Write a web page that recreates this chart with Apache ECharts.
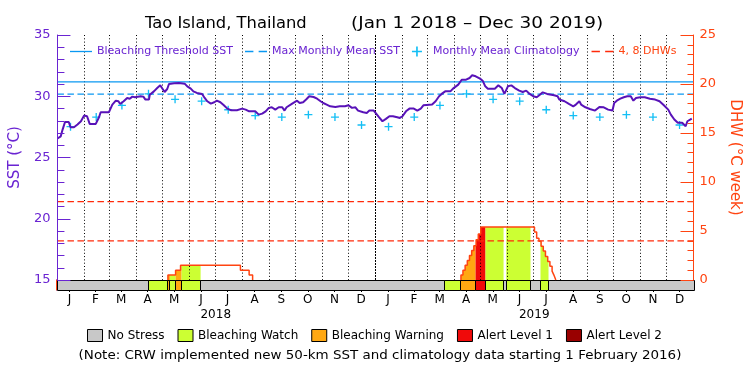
<!DOCTYPE html>
<html><head><meta charset="utf-8">
<script src="https://cdn.jsdelivr.net/npm/echarts@6/dist/echarts.min.js"></script>
<style>html,body{margin:0;padding:0;background:#fff}#c{width:750px;height:375px}</style>
</head><body><div id="c"></div>
<script>
// ---------------- data ----------------
const monthLetters = ['J','F','M','A','M','J','J','A','S','O','N','D'];
const monthLengths = [31,28,31,30,31,30,31,31,30,31,30,31, 31,28,31,30,31,30,31,31,30,31,30,31];
const yearLabels = ['2018','2019'];

// daily SST (day index from Jan 1 2018, deg C)
const sstDay = [0,3.8,6,8.7,13,15,19,23,27,30.5,34,37,44,47.7,49.6,59,63,67,70,72,76,80,83,86,89,95.5,98.6,101,105,106,110.7,114.5,118,120,123,126,128,134,139.5,146,149,153,156,160,166,169,172,176,180,183,187,191,195,199,206,212,216,220,227,231,235,239,242.6,246,250,254,258,260.6,263,269,275,278,282,286,289,294,298,302,305,309,313,319,324,330,334,338,342,345,351,355,358,363,366,369,373,377,381,385,390,393,396,398,400,404,409,413,417,420,430,434,438,441,445,451,454,460,464,469,473,476,480,482,485,488,491,494,502,506,510,513,517,521,525,530,534,538,542,546,550,553,557,562,570,574,576,582,587,592,595,599,601,606,611,617,619,622,627,632,637,639,642,646,650,654,658,661,664,669,674,680,686,691,696,701,704,708,712,717,721,723,728];
const sstVal = [26.55,26.73,27.3,27.9,27.9,27.47,27.47,27.69,27.96,28.42,28.37,27.74,27.74,28.29,28.69,28.69,29.32,29.64,29.59,29.37,29.59,29.86,29.8,29.97,29.92,30.0,29.97,29.73,29.73,30.13,30.4,30.67,30.89,30.67,30.35,30.59,31.0,31.06,31.08,31.03,30.81,30.62,30.4,30.27,30.19,29.86,29.59,29.4,29.51,29.64,29.51,29.26,28.99,28.86,28.86,28.99,28.91,28.77,28.77,28.5,28.58,28.77,29.05,29.1,28.91,29.1,29.1,28.83,29.1,29.37,29.64,29.45,29.51,29.78,30.0,29.94,29.8,29.59,29.45,29.32,29.18,29.13,29.18,29.18,29.26,29.05,29.1,28.83,28.69,28.64,28.83,28.83,28.56,28.29,27.96,28.15,28.37,28.37,28.29,28.23,28.37,28.29,28.77,28.99,28.99,28.83,28.99,29.26,29.32,29.59,30.0,30.19,30.4,30.4,30.62,30.95,31.35,31.35,31.49,31.71,31.63,31.49,31.44,31.27,30.81,30.62,30.62,30.89,30.67,30.19,30.81,30.89,30.67,30.46,30.35,30.46,30.19,30.0,29.92,30.08,30.32,30.19,30.08,30.0,29.73,29.59,29.37,29.18,29.32,29.59,29.32,29.1,28.96,28.83,28.91,29.13,29.1,28.91,28.83,29.45,29.64,29.8,29.92,30.0,30.0,29.64,29.86,29.92,29.92,29.8,29.73,29.59,29.26,28.91,28.5,28.1,27.83,27.83,27.55,27.96,28.18];

// monthly mean climatology Jan..Dec
const climatology = [27.52,28.3,29.25,30.2,29.75,29.6,28.9,28.42,28.3,28.5,28.3,27.65];
const maxMonthlyMean = 30.18;
const bleachingThreshold = 31.18;
const dhwGuides = [4, 8];

// degree heating weeks: value holds from day until next listed day
const dhwDay = [0,126.8,135.6,141.3,210.0,220.0,224.0,463.1,465.4,467.9,470.4,472.9,475.4,477.9,480.5,483.0,485.8,547.5,550.0,552.6,555.1,557.6,560.1,562.7,565.2,567.7,569.8,572.0];
const dhwVal = [0,0.5,1.0,1.5,1.0,0.5,0,0.5,1.0,1.5,2.0,2.5,3.0,3.5,4.1,4.7,5.4,4.9,4.25,3.95,3.45,2.95,2.4,1.9,1.4,0.9,0.5,0];

// bleaching alert status segments [startDay, endDay, level]
const statusStart = [0,105.0,126.1,129.1,135.6,142.5,164.3,444.3,462.7,479.9,491.3,512.0,515.1,542.9,554.4,563.6];
const statusEnd   = [105.0,126.1,129.1,135.6,142.5,164.3,444.3,462.7,479.9,491.3,512.0,515.1,542.9,554.4,563.6,730];
const statusLevel = [0,1,2,1,2,1,0,1,2,3,1,0,1,0,1,0];
const statusNames = ['No Stress','Bleaching Watch','Bleaching Warning','Alert Level 1','Alert Level 2'];

const titleLeft = 'Tao Island, Thailand';
const titleRight = '(Jan 1 2018 – Dec 30 2019)';
const noteText = '(Note: CRW implemented new 50-km SST and climatology data starting 1 February 2016)';

// ---------------- styling ----------------
const FONT = 'DejaVu Sans';
const PURPLE = '#6a24d2', SSTLINE = '#5812b8', RED = '#ff4411', BLUE = '#0a98f2', CYAN = '#14bff5', DASHRED = '#ff2a0a';
const statusColors = ['#c8c8c8','#ccff33','#ffa812','#f00a0a','#990000'];
const ICON_SOLID = 'path://M0,0H22V1.3H0Z';
const ICON_DASH = 'path://M0,0H8V1.3H0Z M13,0H21V1.3H13Z';

// ---------------- derived ----------------
const monthStarts = []; let acc = 0;
monthLengths.forEach(l => { monthStarts.push(acc); acc += l; });
const totalDays = acc;
const monthMids = monthStarts.map((s,i) => s + monthLengths[i]/2 - 0.5);
const boundaries = monthStarts.slice(1).map(s => [s, s === 365 ? 1 : 0]);
const yearMids = [182.5, 547.5];

const sstData = sstDay.map((d,i) => [d, sstVal[i]]);
const climData = monthMids.map((d,i) => [d, climatology[i % 12]]);

function dhwAt(d){ let v = 0; for (let i=0;i<dhwDay.length;i++){ if (dhwDay[i] <= d) v = dhwVal[i]; else break; } return v; }
const dhwLine = [];
for (let i=0;i<dhwDay.length;i++){
  const v = dhwVal[i];
  if (v > 0 && (i === 0 || dhwVal[i-1] === 0)) dhwLine.push([dhwDay[i], 0]);
  if (v > 0) dhwLine.push([dhwDay[i], v]);
  else if (i > 0 && dhwVal[i-1] > 0) { dhwLine.push([dhwDay[i], 0]); dhwLine.push([dhwDay[i], null]); }
}
const fillData = [];
statusLevel.forEach((lv,i) => { if (lv > 0) fillData.push([statusStart[i], statusEnd[i], lv]); });

function statusSeries(level){
  const data = [];
  statusLevel.forEach((lv,i) => { if (lv === level) data.push([statusStart[i], statusEnd[i]]); });
  return {
    type:'custom', name: statusNames[level], xAxisIndex:1, yAxisIndex:2, silent:true, z:4,
    itemStyle:{color: statusColors[level]}, data,
    renderItem(params, api){
      const a = api.coord([api.value(0), 1]), b = api.coord([api.value(1), 0]);
      const x0 = Math.round(a[0]) + 0.5, x1 = Math.round(b[0]) + 0.5;
      const y0 = Math.round(a[1]) + 0.5, y1 = Math.round(b[1]) + 0.5;
      return {type:'rect', shape:{x:x0, y:y0, width:x1-x0, height:y1-y0},
              style:{fill: statusColors[level], stroke:'#000', lineWidth:1}};
    }
  };
}

const labelMap = {};
monthMids.forEach((m,i) => { labelMap[m.toFixed(2)] = monthLetters[i % 12]; });
const yearMap = {};
yearMids.forEach((m,i) => { yearMap[m.toFixed(2)] = yearLabels[i]; });

const chart = echarts.init(document.getElementById('c'), null, {renderer:'canvas', width:750, height:375});
const option = {
  animation:false,
  backgroundColor:'#fff',
  graphic:[
    {type:'text', x:145, y:17, scaleX:1.09, silent:true,
     style:{text:titleLeft, font:'15px "DejaVu Sans"', fill:'#000', textVerticalAlign:'top', textAlign:'left'}},
    {type:'text', x:351, y:17, scaleX:1.23, silent:true,
     style:{text:titleRight, font:'15px "DejaVu Sans"', fill:'#000', textVerticalAlign:'top', textAlign:'left'}},
    {type:'text', x:380, y:350, scaleX:1.12, silent:true,
     style:{text:noteText, font:'12px "DejaVu Sans"', fill:'#000', textVerticalAlign:'top', textAlign:'center'}}
  ],
  legend:[
    {data:[{name:'Bleaching Threshold SST', icon:ICON_SOLID},{name:'Max Monthly Mean SST', icon:ICON_DASH},{name:'Monthly Mean Climatology'},{name:'4, 8 DHWs', icon:ICON_DASH, textStyle:{color:RED}}],
     left:70, top:46, itemWidth:22, itemHeight:10, itemGap:12, padding:0, selectedMode:false,
     textStyle:{color:PURPLE, fontSize:11, fontFamily:FONT}},
    {data:statusNames, left:87, top:329, itemWidth:15, itemHeight:12, itemGap:13, padding:0, selectedMode:false, icon:'rect',
     itemStyle:{borderColor:'#000', borderWidth:1}, textStyle:{color:'#000', fontSize:12, fontFamily:FONT}}
  ],
  grid:[
    {left:56.5, width:637, top:35, height:245},
    {left:56.5, width:637, top:280, height:10}
  ],
  xAxis:[
    {gridIndex:0, type:'value', min:0, max:totalDays, position:'top',
     axisLine:{show:true, lineStyle:{color:'#000', width:1}}, axisTick:{show:false}, axisLabel:{show:false}, splitLine:{show:false}},
    {gridIndex:1, type:'value', min:0, max:totalDays, position:'bottom',
     axisLine:{show:false}, splitLine:{show:false},
     axisTick:{show:true, customValues:monthMids, length:2, lineStyle:{color:'#000'}},
     axisLabel:{show:true, customValues:monthMids, margin:4, color:'#000', fontSize:12, fontFamily:FONT,
       formatter:(v)=> labelMap[Number(v).toFixed(2)] || ''}},
    {gridIndex:1, type:'value', min:0, max:totalDays, position:'bottom', offset:16,
     axisLine:{show:false}, axisTick:{show:false}, splitLine:{show:false},
     axisLabel:{show:true, customValues:yearMids, margin:3, color:'#000', fontSize:12, fontFamily:FONT,
       formatter:(v)=> yearMap[Number(v).toFixed(2)] || ''}}
  ],
  yAxis:[
    {gridIndex:0, type:'value', min:15, max:35, interval:5, position:'left', z:10,
     axisLine:{show:true, lineStyle:{color:PURPLE, width:1}},
     axisTick:{show:true, inside:true, length:13, lineStyle:{color:PURPLE}},
     minorTick:{show:true, splitNumber:5, length:7, lineStyle:{color:PURPLE}},
     axisLabel:{color:PURPLE, fontSize:13, fontFamily:FONT, margin:7},
     splitLine:{show:false},
     name:'SST (°C)', nameLocation:'middle', nameRotate:90, nameGap:30,
     nameTextStyle:{color:PURPLE, fontSize:15, fontFamily:FONT}},
    {gridIndex:0, type:'value', min:0, max:25, interval:5, position:'right', z:10,
     axisLine:{show:true, lineStyle:{color:RED, width:1}},
     axisTick:{show:true, inside:true, length:13, lineStyle:{color:RED}},
     minorTick:{show:true, splitNumber:5, length:6, lineStyle:{color:RED}},
     axisLabel:{color:RED, fontSize:13, fontFamily:FONT, margin:6},
     splitLine:{show:false},
     name:'DHW (°C week)', nameLocation:'middle', nameRotate:-90, nameGap:30,
     nameTextStyle:{color:RED, fontSize:15, fontFamily:FONT}},
    {gridIndex:1, type:'value', min:0, max:1, position:'left', z:10,
     axisLine:{show:true, lineStyle:{color:PURPLE}}, axisTick:{show:false}, axisLabel:{show:false}, splitLine:{show:false}},
    {gridIndex:1, type:'value', min:0, max:1, position:'right', z:10,
     axisLine:{show:true, lineStyle:{color:RED}}, axisTick:{show:false}, axisLabel:{show:false}, splitLine:{show:false}}
  ],
  series:[
    {type:'custom', name:'DHW fill', xAxisIndex:0, yAxisIndex:1, silent:true, z:2, data:fillData,
     renderItem(params, api){
       const s = api.value(0), e = api.value(1), lv = api.value(2);
       const pts = [[s,0],[s,dhwAt(s)]];
       dhwDay.forEach(b => { if (b > s && b < e) { pts.push([b, dhwAt(b-1e-6)]); pts.push([b, dhwAt(b)]); } });
       pts.push([e, dhwAt(e-1e-6)]); pts.push([e, 0]);
       return {type:'polygon', shape:{points: pts.map(p => api.coord(p))}, style:{fill: statusColors[lv]}};
     }},
    {type:'custom', name:'month lines', xAxisIndex:0, yAxisIndex:0, silent:true, z:3, data:boundaries,
     renderItem(params, api){
       const x = Math.round(api.coord([api.value(0), 20])[0]) + 0.5;
       const cs = params.coordSys;
       return {type:'line', shape:{x1:x, y1:cs.y, x2:x, y2:cs.y+cs.height},
               style:{stroke:'#000', lineWidth:1, lineDash: api.value(1) ? [2,1] : [1,2.3]}};
     }},
    {type:'line', name:'Bleaching Threshold SST', xAxisIndex:0, yAxisIndex:0, symbol:'none', z:4, silent:true,
     data:[[0,bleachingThreshold],[totalDays,bleachingThreshold]], lineStyle:{color:BLUE, width:1.2}, itemStyle:{color:BLUE}},
    {type:'line', name:'Max Monthly Mean SST', xAxisIndex:0, yAxisIndex:0, symbol:'none', z:4, silent:true,
     data:[[0,maxMonthlyMean],[totalDays,maxMonthlyMean]], lineStyle:{color:BLUE, width:1.2, type:[6.5,3.5]}, itemStyle:{color:BLUE}},
    {type:'line', name:'4, 8 DHWs', xAxisIndex:0, yAxisIndex:1, symbol:'none', z:4, silent:true,
     data:[[0,dhwGuides[0]],[totalDays,dhwGuides[0]]], lineStyle:{color:DASHRED, width:1.2, type:[6.5,3.5]}, itemStyle:{color:DASHRED}},
    {type:'line', name:'4, 8 DHWs', xAxisIndex:0, yAxisIndex:1, symbol:'none', z:4, silent:true,
     data:[[0,dhwGuides[1]],[totalDays,dhwGuides[1]]], lineStyle:{color:DASHRED, width:1.2, type:[6.5,3.5]}, itemStyle:{color:DASHRED}},
    {type:'line', name:'DHW', xAxisIndex:0, yAxisIndex:1, symbol:'none', step:'end', z:5, silent:true, connectNulls:false,
     data:dhwLine, lineStyle:{color:RED, width:1.5}, itemStyle:{color:RED}},
    {type:'scatter', name:'Monthly Mean Climatology', xAxisIndex:0, yAxisIndex:0, z:6, silent:true,
     symbol:'path://M0,3.75h9v1.5h-9z M3.75,0h1.5v9h-1.5z', symbolSize:8, data:climData, itemStyle:{color:CYAN, opacity:1}},
    {type:'line', name:'SST', xAxisIndex:0, yAxisIndex:0, symbol:'none', z:7, silent:true,
     data:sstData, lineStyle:{color:SSTLINE, width:2}, itemStyle:{color:SSTLINE}},
    statusSeries(0), statusSeries(1), statusSeries(2), statusSeries(3), statusSeries(4)
  ]
};
chart.setOption(option);
</script>
</body></html>
